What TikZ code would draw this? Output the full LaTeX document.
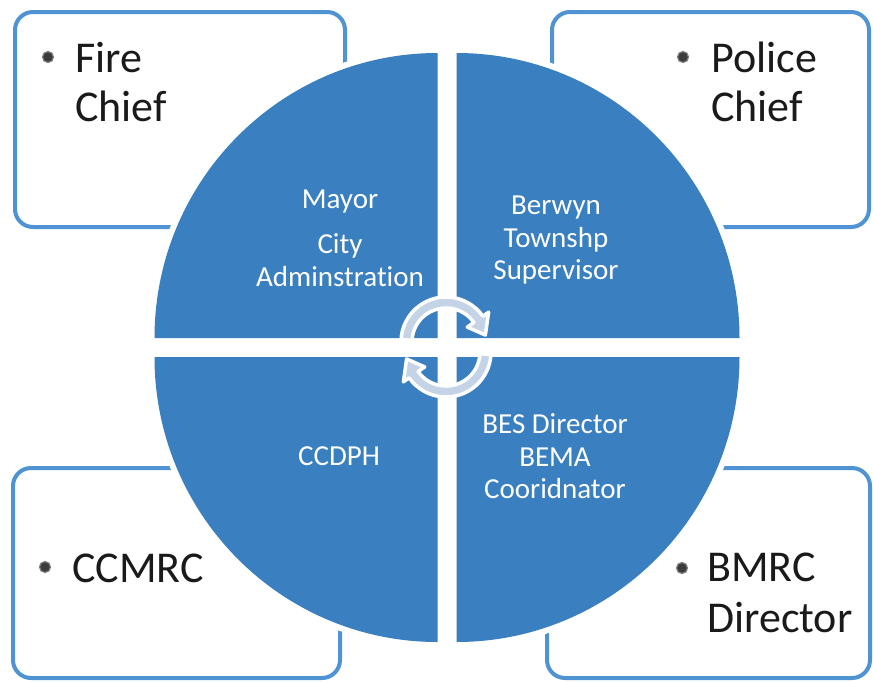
\documentclass[tikz,border=0pt]{standalone}
\usepackage{fontspec}
\setmainfont{Carlito}[Ligatures=NoCommon]
\definecolor{quadblue}{HTML}{3A7FC0}
\definecolor{boxblue}{HTML}{4F93D2}
\definecolor{arrowfill}{HTML}{C4D4E6}
\definecolor{bullgray}{HTML}{3C3C3C}
\definecolor{inktext}{HTML}{1A1A1A}
\tikzset{
  panel/.style={draw=boxblue, line width=4pt, rounded corners=18pt, inner sep=0pt, outer sep=0pt},
  quad/.style={fill=quadblue, preaction={draw=white, line width=12pt}},
  qtext/.style={text=white, font=\fontsize{29}{33}\selectfont, anchor=base, inner sep=0pt},
  btext/.style={text=inktext, font=\fontsize{44}{50}\selectfont, anchor=base west, inner sep=0pt},
  bulletdot/.style={circle, fill=bullgray, draw=gray, line width=1.2pt, inner sep=0pt, minimum size=11pt},
  cyc/.style={fill=arrowfill, draw=white, line width=3.5pt, line join=round}
}
\begin{document}
\begin{tikzpicture}[x=1pt,y=-1pt]
\useasboundingbox (0,0) rectangle (873,681);
\fill[white] (0,0) rectangle (873,681);

% corner boxes
\node[panel, minimum width=330pt, minimum height=215pt] (firebox) at (180,119.5) {};
\node[panel, minimum width=317pt, minimum height=215pt] (policebox) at (710.5,119.5) {};
\node[panel, minimum width=327pt, minimum height=210pt] (ccmrcbox) at (176.5,573) {};
\node[panel, minimum width=323pt, minimum height=210pt] (bmrcbox) at (708.5,573) {};

% box texts
\node[bulletdot] (b1) at (48,57) {};
\node[btext] (fire1) at (75,72) {Fire};
\node[btext] (fire2) at (75,121) {Chief};
\node[bulletdot] (b2) at (683,57) {};
\node[btext] (pol1) at (711,72) {Police};
\node[btext] (pol2) at (711,121) {Chief};
\node[bulletdot] (b3) at (45,567) {};
\node[btext] (ccmrc) at (72,582) {CCMRC};
\node[bulletdot] (b4) at (682,568) {};
\node[btext] (bmrc1) at (707,581) {BMRC};
\node[btext] (bmrc2) at (707,632) {Director};

% quadrants
\path[quad] (437.5,338) -- (154.5,338) arc[start angle=180,end angle=270,x radius=283,y radius=285] -- cycle;
\path[quad] (456.5,338) -- (456.5,53) arc[start angle=270,end angle=360,x radius=283,y radius=285] -- cycle;
\path[quad] (456.5,357) -- (739.5,357) arc[start angle=0,end angle=90,x radius=283,y radius=285] -- cycle;
\path[quad] (437.5,357) -- (437.5,642) arc[start angle=90,end angle=180,x radius=283,y radius=285] -- cycle;

% quadrant texts
\node[qtext] (mayor) at (340,208) {Mayor};
\node[qtext] (city1) at (340,253) {City};
\node[qtext] (city2) at (340,286) {Adminstration};
\node[qtext] (ber1) at (556,214) {Berwyn};
\node[qtext] (ber2) at (556,247) {Townshp};
\node[qtext] (ber3) at (556,279) {Supervisor};
\node[qtext] (ccdph) at (339,465) {CCDPH};
\node[qtext] (bes1) at (555,433) {BES Director};
\node[qtext] (bes2) at (555,466) {BEMA};
\node[qtext] (bes3) at (555,498) {Cooridnator};

% cycle arrows
\coordinate (ta) at (446,342);
\coordinate (tb) at (446,352);
\path[cyc] ([shift={(183:45)}]ta) arc[start angle=183,end angle=325,radius=45]
  -- ([shift={(325:52)}]ta) -- ([shift={(350:40)}]ta) -- ([shift={(325:26)}]ta)
  -- ([shift={(325:34)}]ta) arc[start angle=325,end angle=183,radius=34] -- cycle;
\path[cyc] ([shift={(3:45)}]tb) arc[start angle=3,end angle=145,radius=45]
  -- ([shift={(145:52)}]tb) -- ([shift={(170:40)}]tb) -- ([shift={(145:26)}]tb)
  -- ([shift={(145:34)}]tb) arc[start angle=145,end angle=3,radius=34] -- cycle;
\end{tikzpicture}
\end{document}
